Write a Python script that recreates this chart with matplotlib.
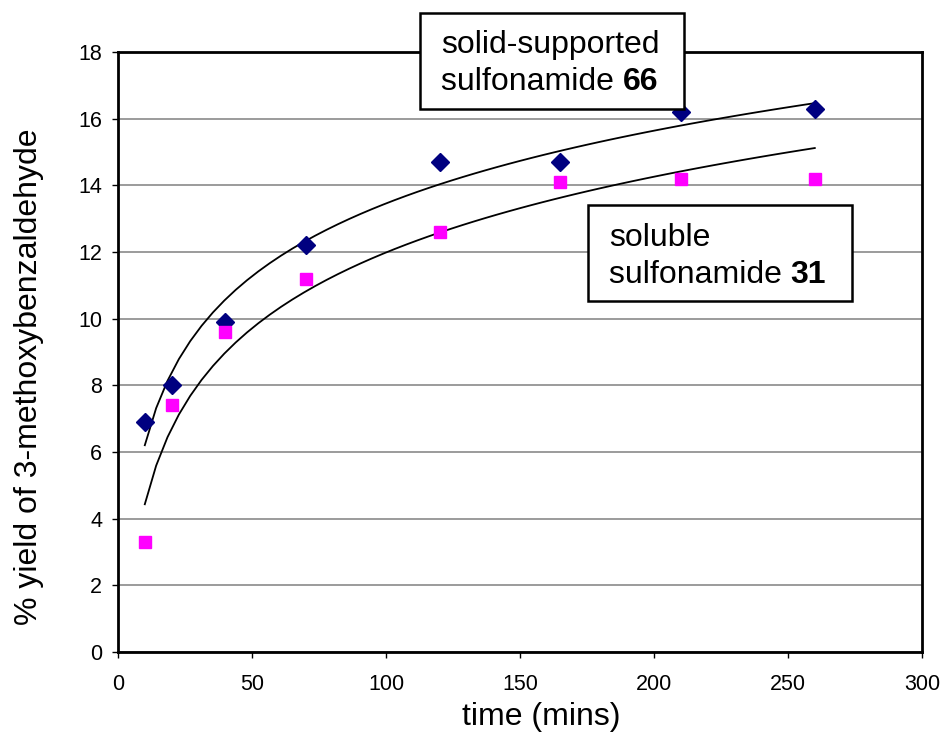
import numpy as np
import matplotlib
matplotlib.use('Agg')
import matplotlib.pyplot as plt
from matplotlib.patches import Rectangle

plt.rcParams['font.family'] = ['Liberation Sans', 'DejaVu Sans']

# Data.
time_mins = [10, 20, 40, 70, 120, 165, 210, 260]
yield_solid = [6.9, 8.0, 9.9, 12.2, 14.7, 14.7, 16.2, 16.3]      # solid-supported 66
yield_soluble = [3.3, 7.4, 9.6, 11.2, 12.6, 14.1, 14.2, 14.2]    # soluble 31

# Log trendlines (y = a*ln(x) + b), coefficients.
trend_solid = (3.15, -1.05)
trend_soluble = (3.28, -3.12)

W, H = 942, 734
fig = plt.figure(figsize=(W/100., H/100.), dpi=100)
ax = fig.add_axes([118./W, 1-652./H, (922-118.)/W, (652-52.)/H])

def px(x, y):
    """pixel (from top left) -> figure fraction"""
    return x/W, 1-y/H

# Trendlines.
tt = np.linspace(min(time_mins), max(time_mins), 60)
for a, b in [trend_solid, trend_soluble]:
    ax.plot(tt, a*np.log(tt) + b, color='black', lw=1.3, zorder=3)

ax.plot(time_mins, yield_solid, ls='none', marker='D', ms=9, color='#000080',
        mec='#000080', zorder=4)
ax.plot(time_mins, yield_soluble, ls='none', marker='s', ms=9, color='#FF00FF',
        mec='#FF00FF', zorder=4)

ax.set_xlim(0, 300)
ax.set_ylim(0, 18)
ax.set_xticks(np.arange(0, 301, 50))
ax.set_yticks(np.arange(0, 19, 2))
ax.yaxis.grid(True, color='#808080', lw=1.1)
ax.set_axisbelow(True)
for sp in ax.spines.values():
    sp.set_linewidth(2)
    sp.set_color('black')
ax.tick_params(direction='out', length=4.5, width=1, colors='black', labelsize=15.5, pad=7)
ax.tick_params(axis='x', pad=11)

ax.set_xlabel('time (mins)', fontsize=23)
ax.xaxis.set_label_coords(0.526, -0.083)
ax.set_ylabel('% yield of 3-methoxybenzaldehyde', fontsize=23)
ax.yaxis.set_label_coords(-0.092, 0.458)

# Labelled boxes.
def label_box(x0, y0, x1, y1, line1, line2, bold, tx, ty1, ty2):
    fx0, fy0 = px(x0, y1)
    fx1, fy1 = px(x1, y0)
    fig.add_artist(Rectangle((fx0, fy0), fx1-fx0, fy1-fy0, transform=fig.transFigure,
                             facecolor='white', edgecolor='black', lw=1.8, zorder=5))
    fig.text(*px(tx, ty1), line1, fontsize=23, va='baseline', ha='left', zorder=6)
    t2 = fig.text(*px(tx, ty2), line2 + ' ', fontsize=23, va='baseline', ha='left', zorder=6)
    fig.add_artist(plt.Annotation(bold, xy=(1, 0), xycoords=t2, va='bottom', ha='left',
                                  fontsize=23, fontweight='bold', zorder=6))

label_box(420, 13, 684, 109, 'solid-supported', 'sulfonamide', '66', 441, 53, 90)
label_box(588, 205, 852, 301, 'soluble', 'sulfonamide', '31', 609, 246, 283)

fig.savefig('out.png', dpi=100)
